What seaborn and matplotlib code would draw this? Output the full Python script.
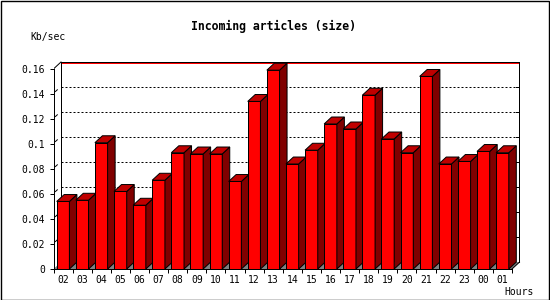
import matplotlib
matplotlib.use("Agg")
import matplotlib.pyplot as plt
from matplotlib.patches import Polygon, Rectangle
import seaborn as sns
import pandas as pd

hours = ["02", "03", "04", "05", "06", "07", "08", "09", "10", "11", "12", "13",
         "14", "15", "16", "17", "18", "19", "20", "21", "22", "23", "00", "01"]
kb_per_sec = [0.054, 0.055, 0.101, 0.062, 0.051, 0.071, 0.093, 0.092, 0.092, 0.070, 0.134, 0.159,
              0.084, 0.095, 0.116, 0.112, 0.139, 0.104, 0.093, 0.154, 0.084, 0.086, 0.094, 0.093]
ytick_values = [0, 0.02, 0.04, 0.06, 0.08, 0.10, 0.12, 0.14, 0.16]
ytick_labels = ["0", "0.02", "0.04", "0.06", "0.08", "0.1", "0.12", "0.14", "0.16"]
title = "Incoming articles (size)"
ylabel = "Kb/sec"
xlabel = "Hours"

df = pd.DataFrame({"hour": hours, "value": kb_per_sec})

MONO = "DejaVu Sans Mono"
plt.rcParams["font.family"] = [MONO]

FRONT = "#FF0000"
SIDE = "#800000"
TOP = "#C00000"
FLOOR = "#808080"
LW = 0.72

fig = plt.figure(figsize=(5.5, 3.0), dpi=100)
fig.patch.set_facecolor("white")
ax = fig.add_axes([53.5 / 550, 31 / 300, 467 / 550, 208 / 300])
ax.set_facecolor("white")

n = len(hours)
dx = 7.5 / 19.1
dy = 7.0 / 1262.5
px_y = 1.0 / 1262.5
ymax = ytick_values[-1]

sns.barplot(data=df, x="hour", y="value", order=hours, color=FRONT, saturation=1,
            edgecolor="black", linewidth=LW, width=0.665, ax=ax, zorder=5)
bars = [q for q in ax.patches if q.get_zorder() == 5]

ax.set_xlim(-0.5, n - 0.5 + dx + 1.0 / 19.1)
ax.set_ylim(0, ymax + dy + 1.0 * px_y)

# back wall
xl, xr = -0.5, n - 0.5
ax.plot([xl + dx, xl + dx], [dy, ymax + dy], color="black", lw=LW, zorder=3)
ax.plot([xr + dx, xr + dx], [dy, ymax + dy], color="black", lw=LW, zorder=3)
ax.plot([xl + dx, xr + dx], [ymax + dy, ymax + dy], color="black", lw=LW, zorder=3)
ax.plot([xl + dx, xr + dx], [ymax + dy - 1.1 * px_y] * 2, color="#FF0000", lw=LW, zorder=2)
ax.plot([xl, xl + dx], [ymax, ymax + dy], color="black", lw=LW, zorder=3)
ax.plot([xr, xr + dx], [0, dy], color="black", lw=LW, zorder=3)
# floor
ax.add_patch(Polygon([(xl, 0), (xr, 0), (xr + dx, dy), (xl + dx, dy)], closed=True,
                     facecolor=FLOOR, edgecolor="none", zorder=1))
for v in ytick_values[1:-1]:
    ax.plot([xl + dx, xr + dx], [v + dy, v + dy], color="black", lw=LW,
            linestyle=(0, (2.0, 2.0)), zorder=2)
    ax.plot([xr + dx - 0.16, xr + dx], [v + dy, v + dy], color="black", lw=LW, zorder=2)
    ax.plot([xl + 0.1, xl + 0.2], [v + 0.35 * dy, v + 0.6 * dy], color="black", lw=LW, zorder=2)

# 3D faces derived from the seaborn bars
for i, p in enumerate(bars):
    x0, w, h = p.get_x(), p.get_width(), p.get_height()
    z = 10 + 3 * i
    p.set_zorder(z)
    ax.add_patch(Polygon([(x0 + w, 0), (x0 + w + dx, dy), (x0 + w, dy)], closed=True,
                         facecolor=FLOOR, edgecolor="none", zorder=z + 1))
    ax.add_patch(Polygon([(x0 + w, 0), (x0 + w + dx, dy), (x0 + w + dx, h + dy), (x0 + w, h)],
                         closed=True, facecolor=SIDE, edgecolor="black", lw=LW, zorder=z + 1))
    ax.add_patch(Polygon([(x0, h), (x0 + w, h), (x0 + w + dx, h + dy), (x0 + dx, h + dy)],
                         closed=True, facecolor=TOP, edgecolor="black", lw=LW, zorder=z + 1))

# axes spines / ticks
for s in ["top", "right"]:
    ax.spines[s].set_visible(False)
ax.spines["left"].set_bounds(0, ymax)
ax.spines["bottom"].set_bounds(xl, xr)
ax.spines["left"].set_linewidth(LW)
ax.spines["bottom"].set_linewidth(LW)
ax.spines["left"].set_zorder(200)
ax.spines["bottom"].set_zorder(200)

ax.set_yticks(ytick_values)
ax.set_yticklabels(ytick_labels, fontsize=7, family=MONO)
ax.tick_params(axis="y", direction="out", length=2.9, width=LW, pad=3.4)

ax.set_xticks([i - 0.5 for i in range(n + 1)])
ax.set_xticklabels([])
ax.set_xticks(list(range(n)), minor=True)
ax.set_xticklabels(hours, minor=True, fontsize=7, family=MONO)
ax.tick_params(axis="x", which="major", direction="out", length=2.9, width=LW)
ax.tick_params(axis="x", which="minor", length=0, pad=4.0)
ax.set_xlabel("")
ax.set_ylabel("")

fig.text(273.7 / 550, 1 - 26.5 / 300, title, ha="center", va="center",
         fontsize=8.3, fontweight="bold", family=MONO)
fig.text(30 / 550, 1 - 37 / 300, ylabel, ha="left", va="center", fontsize=7, family=MONO)
fig.text(534 / 550, 1 - 292 / 300, xlabel, ha="right", va="center", fontsize=7, family=MONO)

fig.patches.append(Rectangle((0.5 / 550, 0.5 / 300), 548.5 / 550, 298.5 / 300, transform=fig.transFigure,
                             fill=False, edgecolor="black", lw=1.0, figure=fig))

fig.savefig("out.png", dpi=100, facecolor="white")
